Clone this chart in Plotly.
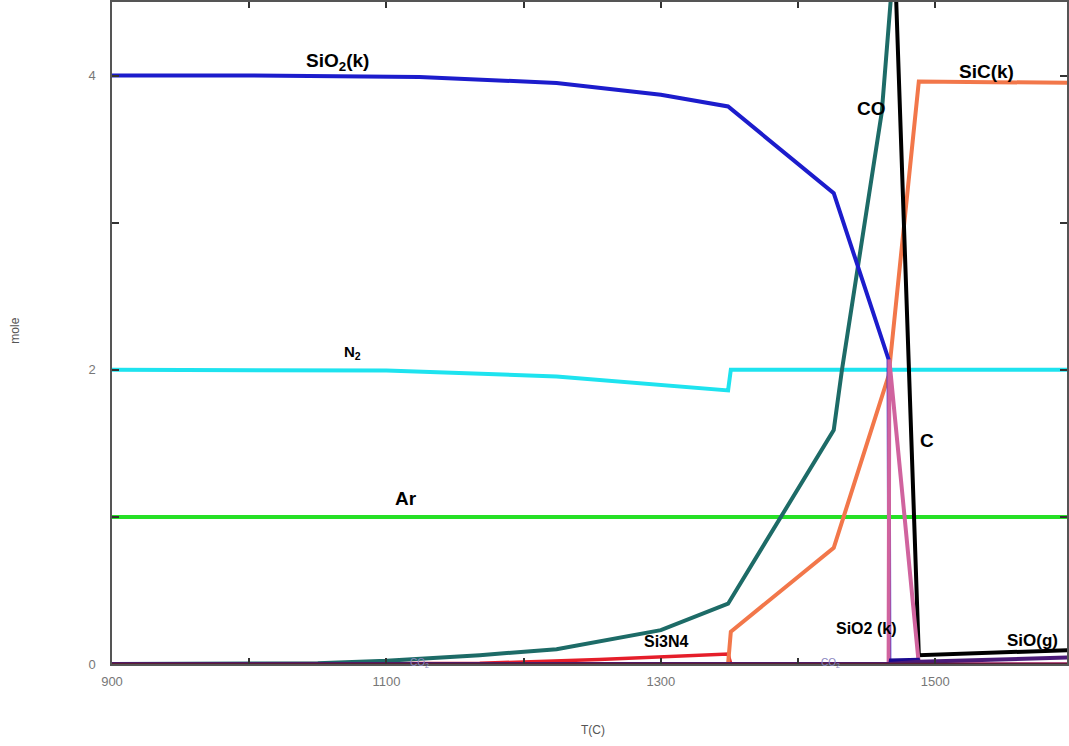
import plotly.graph_objects as go

# ---- data ----
T_sio2 = [900, 1000, 1124, 1224, 1300, 1349, 1426, 1466, 1466.5, 1600]
sio2 = [4.0, 4.0, 3.99, 3.95, 3.87, 3.79, 3.2, 2.07, 0.0, 0.0]

T_n2 = [900, 1100, 1224, 1349, 1351, 1600]
n2 = [2.0, 1.995, 1.955, 1.86, 2.0, 2.0]

T_ar = [900, 1600]
ar = [1.0, 1.0]

T_co = [900, 1000, 1050, 1100, 1168, 1224, 1300, 1349, 1426, 1432, 1441, 1451, 1461, 1488, 1600]
co = [0.0, 0.0, 0.005, 0.022, 0.06, 0.1, 0.23, 0.41, 1.59, 2.0, 2.55, 3.15, 3.75, 6.9, 6.9]

T_c = [900, 1466, 1488, 1600]
c = [6.0, 6.0, 0.06, 0.095]

T_sic = [900, 1349, 1351, 1426, 1466, 1488, 1600]
sic = [0.0, 0.0, 0.22, 0.79, 1.96, 3.96, 3.95]

T_si3n4 = [900, 1100, 1168, 1255, 1349, 1351, 1600]
si3n4 = [0.0, 0.0, 0.005, 0.03, 0.068, 0.0, 0.0]

T_sio2b = [900, 1466, 1466.5, 1488, 1600]
sio2b = [0.0, 0.0, 2.07, 0.0, 0.0]

T_sio = [900, 1466, 1488, 1600]
sio = [0.0, 0.0, 0.015, 0.045]

T_si = [900, 1466.5, 1467, 1488, 1489, 1600]
si = [0.0, 0.0, 0.03, 0.035, 0.0, 0.0]

x_ticks = [900, 1100, 1300, 1500]
y_ticks = [0, 2, 4]

labels = [
    ("SiO<sub>2</sub>(k)", 1064.4, 4.095, 19),
    ("N<sub>2</sub>", 1075.3, 2.115, 15),
    ("Ar", 1114.5, 1.125, 19),
    ("Si3N4", 1304.4, 0.156, 16),
    ("CO", 1453.5, 3.776, 19),
    ("SiC(k)", 1537.1, 4.027, 19),
    ("C", 1494.2, 1.519, 19),
    ("SiO2 (k)", 1449.8, 0.244, 16),
    ("SiO(g)", 1570.5, 0.163, 17),
]

FONT = "Arial, Liberation Sans"
fig = go.Figure()

def add(x, y, color, width=4, name="", **kw):
    fig.add_trace(go.Scatter(x=x, y=y, mode="lines", name=name,
                             line=dict(color=color, width=width), showlegend=False,
                             hoverinfo="skip", **kw))

add(T_ar, ar, "#26e026", name="Ar")
add(T_n2, n2, "#1ee3ef", name="N2")
add(T_si3n4, si3n4, "#e51e2a", width=3.5, name="Si3N4")
add(T_sic, sic, "#f2774a", name="SiC(k)")
add(T_co, co, "#1d6b67", name="CO")
add(T_sio2, sio2, "#1c1ccc", name="SiO2(k)")
add(T_c, c, "#000000", name="C")
add(T_sio2b, sio2b, "#d0639e", name="SiO2 (k)")
add(T_si, si, "#1a0a90", width=2, name="Si", fill="tozeroy", fillcolor="#1a0a90")
add(T_sio, sio, "#4b1a78", width=4, name="SiO(g)")
add([900, 1600], [0, 0], "#5a1f35", width=2.5, name="base")

for txt, x, y, sz in labels:
    fig.add_annotation(x=x, y=y, xref="x", yref="y", text=f"<b>{txt}</b>",
                       showarrow=False, xanchor="center", yanchor="middle",
                       font=dict(family=FONT, size=sz, color="#000000"))

# faint small labels near the baseline
for xx in (1124, 1424):
    fig.add_annotation(x=xx, y=0.01, xref="x", yref="y", text="CO<sub>2</sub>", showarrow=False,
                       xanchor="center", yanchor="middle",
                       font=dict(family=FONT, size=10, color="#8a86c0"))

# axis titles
fig.add_annotation(x=(14 - 112) / 957, y=(664 - 330) / 663, xref="paper", yref="paper",
                   text="mole", textangle=-90, showarrow=False,
                   xanchor="center", yanchor="middle",
                   font=dict(family=FONT, size=12, color="#555555"))
fig.add_annotation(x=(594 - 112) / 957, y=(664 - 730) / 663, xref="paper", yref="paper",
                   text="T(C)", showarrow=False, xanchor="center", yanchor="middle",
                   font=dict(family=FONT, size=12, color="#555555"))

axis_font = dict(family=FONT, size=13, color="#777777")
fig.update_layout(
    width=1069, height=746,
    margin=dict(l=112, r=0, t=1, b=82),
    paper_bgcolor="white", plot_bgcolor="white",
    xaxis=dict(range=[900, 1596], tickvals=x_ticks,
               ticks="inside", ticklen=6, tickwidth=1.5, tickcolor="#333333",
               minor=dict(ticks="inside", tick0=900, dtick=100, ticklen=6, tickwidth=1.5,
                          tickcolor="#333333", showgrid=False),
               showline=True, linecolor="#555555", linewidth=1.5, mirror="ticks",
               showgrid=False, zeroline=False, tickfont=axis_font, ticklabelstandoff=5),
    yaxis=dict(range=[0, 4.5], tickvals=y_ticks,
               ticks="inside", ticklen=7, tickwidth=1.5, tickcolor="#333333",
               minor=dict(ticks="inside", tick0=0, dtick=1, ticklen=7, tickwidth=1.5,
                          tickcolor="#333333", showgrid=False),
               showline=True, linecolor="#555555", linewidth=1.5, mirror="ticks",
               showgrid=False, zeroline=False, tickfont=axis_font, ticklabelstandoff=12),
)

fig.write_html("out.html")
